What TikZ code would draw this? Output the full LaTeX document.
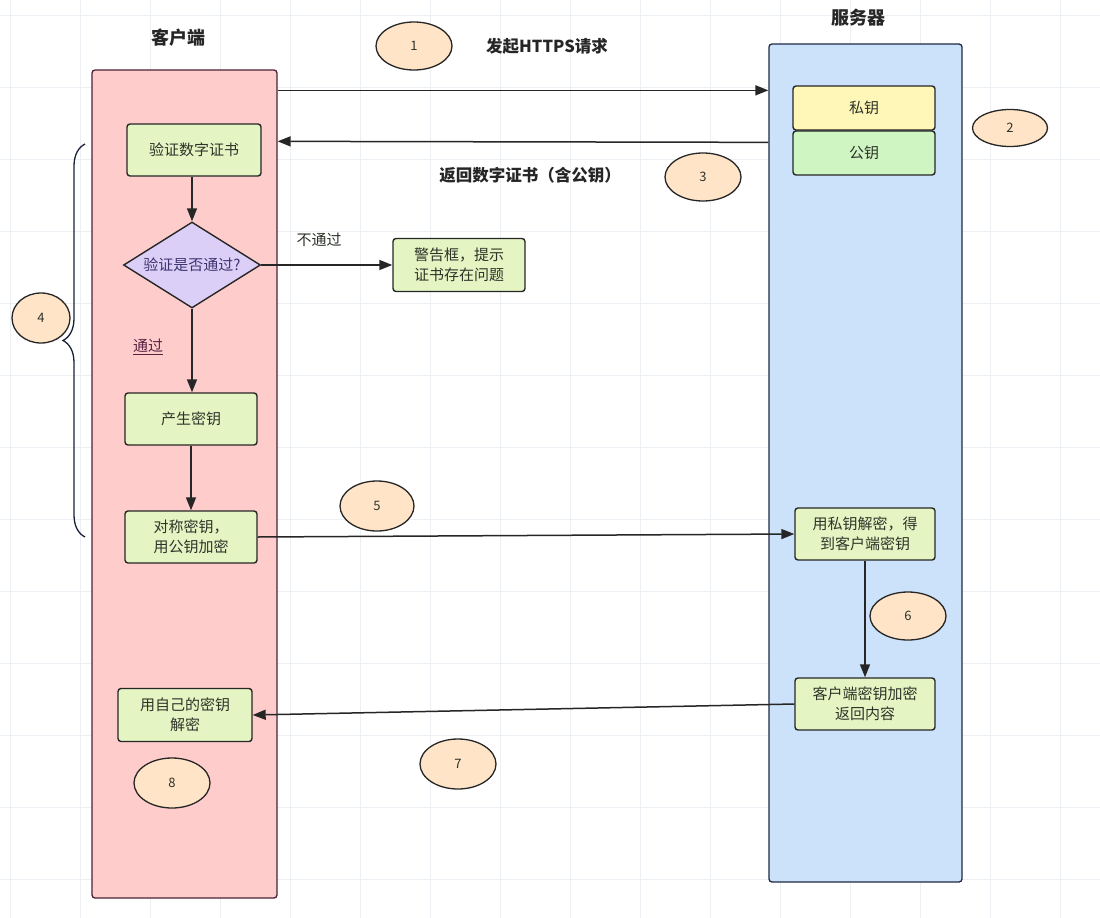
\documentclass[tikz,border=0pt]{standalone}
\usepackage{fontspec}
\setmainfont{Noto Sans CJK SC}
\usetikzlibrary{shapes.geometric,arrows.meta,decorations.pathreplacing,calc}
\definecolor{pinkfill}{HTML}{FFCCCC}
\definecolor{pinkdraw}{HTML}{4A2236}
\definecolor{bluefill}{HTML}{CCE1FA}
\definecolor{bluedraw}{HTML}{1E2A44}
\definecolor{boxfill}{HTML}{E4F5C3}
\definecolor{keyyellow}{HTML}{FFF7B8}
\definecolor{keygreen}{HTML}{CFF5C2}
\definecolor{diafill}{HTML}{DCCFF7}
\definecolor{ellfill}{HTML}{FFE4C8}
\definecolor{gridc}{HTML}{ECEFF3}
\definecolor{txt}{HTML}{2E3329}
\definecolor{passc}{HTML}{5A2040}
\definecolor{diatxt}{HTML}{3C3470}
\begin{document}
\begin{tikzpicture}[x=1pt,y=-1pt,
  every node/.style={font=\fontsize{15pt}{20pt}\selectfont, text=txt},
  lane/.style={draw, line width=1.3pt, rounded corners=3pt, inner sep=0pt},
  stepbox/.style={draw=black!85, line width=1.4pt, fill=boxfill, rounded corners=3pt, minimum width=132pt, minimum height=52pt, align=center, inner sep=2pt},
  keybox/.style={draw=black!85, line width=1.4pt, rounded corners=3pt, minimum width=142pt, minimum height=44pt},
  numell/.style={ellipse, draw=black!85, line width=1.3pt, fill=ellfill, minimum width=76pt, minimum height=48pt, inner sep=0pt, font=\fontsize{13pt}{15pt}\selectfont},
  arr/.style={draw=black!85, line width=1.5pt, -{Triangle[length=13pt,width=10pt]}},
  ttl/.style={font=\fontsize{18pt}{21pt}\selectfont\bfseries, text=black!85},
  msg/.style={font=\fontsize{16.5pt}{20pt}\selectfont\bfseries, text=black!85}
]
\useasboundingbox (0,0) rectangle (1100,918);
\fill[white] (0,0) rectangle (1100,918);
% grid
\foreach \gx in {10,80,...,1100} \draw[gridc, line width=0.8pt] (\gx,0) -- (\gx,918);
\foreach \gy in {15,87,...,918} \draw[gridc, line width=0.8pt] (0,\gy) -- (1100,\gy);

% lanes
\node[lane, draw=pinkdraw, fill=pinkfill, minimum width=185pt, minimum height=828pt] (client) at (184.5,484) {};
\node[lane, draw=bluedraw, fill=bluefill, minimum width=193pt, minimum height=838pt] (server) at (865.5,463) {};
\node[ttl] (clientttl) at (178,38) {客户端};
\node[ttl] (serverttl) at (858,18) {服务器};

% server keys
\node[keybox, fill=keyyellow] (priv) at (864,108) {私钥};
\node[keybox, fill=keygreen] (pub) at (864,153) {公钥};

% client steps
\node[stepbox, minimum width=134pt] (verify) at (194,150) {验证数字证书};
\node[diamond, draw=black!85, line width=1.4pt, fill=diafill, aspect=1.593, minimum width=137pt, minimum height=86pt, inner sep=0pt, text=diatxt] (dia) at (192,265) {验证是否通过?};
\node[stepbox, minimum height=53pt] (warn) at (459,265) {警告框，提示\\证书存在问题};
\node[stepbox] (gen) at (191,419) {产生密钥};
\node[stepbox] (sym) at (191,537) {对称密钥，\\用公钥加密};
\node[stepbox, minimum width=134pt, minimum height=53pt] (own) at (185,715) {用自己的密钥\\解密};

% server steps
\node[stepbox, minimum width=140pt] (dec) at (865,534) {用私钥解密，得\\到客户端密钥};
\node[stepbox, minimum width=140pt] (enc) at (865,704) {客户端密钥加密\\返回内容};

% numbers
\node[numell] (n1) at (414,46) {1};
\node[numell, minimum width=75pt, minimum height=37pt] (n2) at (1010,128) {2};
\node[numell] (n3) at (703,177) {3};
\node[numell, minimum width=58pt, minimum height=50pt] (n4) at (41,318) {4};
\node[numell, minimum width=74pt, minimum height=50pt] (n5) at (377,506) {5};
\node[numell] (n6) at (908,616) {6};
\node[numell, minimum height=50pt] (n7) at (458,764) {7};
\node[numell, minimum height=50pt] (n8) at (172,783) {8};

% labels
\node[msg] (l1) at (547,46) {发起HTTPS请求};
\node[msg] (l3) at (530,175) {返回数字证书（含公钥）};
\node (lno) at (319,240) {不通过};
\node[text=passc] (lyes) at (148,347) {\underline{通过}};

% connectors
\draw[arr] ($(client.north east)+(0,21)$) -- ($(server.north west)+(0,47)$);
\draw[arr] ($(server.north west)+(0,99)$) -- ($(client.north east)+(0,72)$);
\draw[arr] (verify.south -| dia.north) -- (dia.north);
\draw[arr] (dia.east) -- (warn.west);
\draw[arr] (dia.south) -- (gen.north -| dia.south);
\draw[arr] (gen.south) -- (sym.north);
\draw[arr] (sym.east) -- (dec.west);
\draw[arr] (dec.south) -- (enc.north);
\draw[arr] (enc.west) -- (own.east);

% brace
\coordinate (bt) at (85,144);
\coordinate (bb) at (85,537);
\draw[line width=1.3pt, draw=bluedraw!80!black, decorate, decoration={brace, amplitude=22pt, aspect=0.5}] (bb) -- (bt);
\end{tikzpicture}
\end{document}
